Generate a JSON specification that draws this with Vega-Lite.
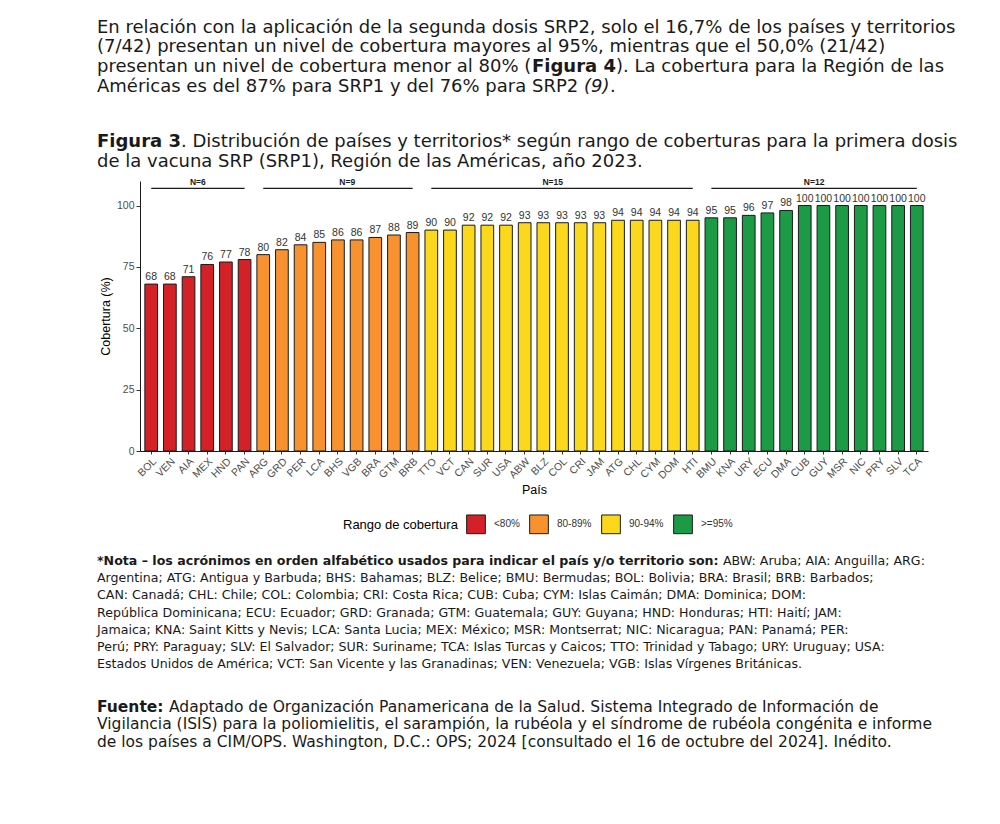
{
  "$schema": "https://vega.github.io/schema/vega-lite/v6.json",
  "padding": {"left": 97, "top": 0, "right": 5, "bottom": 0},
  "background": "white",
  "spacing": 0,
  "resolve": {"scale": {"fill": "independent"}, "legend": {"fill": "independent"}},
  "config": {"view": {"stroke": null}},
  "vconcat": [
    {
      "width": 880, "height": 129,
      "layer": [
        {
          "data": {"values": [
            {"line": 0, "text": "En relación con la aplicación de la segunda dosis SRP2, solo el 16,7% de los países y territorios"},
            {"line": 1, "text": "(7/42) presentan un nivel de cobertura mayores al 95%, mientras que el 50,0% (21/42)"},
            {"line": 2, "text": "presentan un nivel de cobertura menor al 80% ("},
            {"line": 3, "text": "Américas es del 87% para SRP1 y del 76% para SRP2 "}
          ]},
          "mark": {"type": "text", "align": "left", "baseline": "middle", "font": "DejaVu Sans", "fontSize": 18, "color": "#1a1a1a"},
          "encoding": {
            "x": {"value": -43},
            "y": {"field": "line", "type": "quantitative", "scale": {"domain": [-1.396, 5.152], "reverse": true, "nice": false, "zero": false}, "axis": null},
            "text": {"field": "text"}
          }
        },
        {
          "data": {"values": [{"line": 2, "text": "Figura 4"}]},
          "mark": {"type": "text", "align": "left", "baseline": "middle", "font": "DejaVu Sans", "fontSize": 18, "fontWeight": "bold", "color": "#1a1a1a", "dx": 435},
          "encoding": {
            "x": {"value": -43},
            "y": {"field": "line", "type": "quantitative", "axis": null},
            "text": {"field": "text"}
          }
        },
        {
          "data": {"values": [{"line": 2, "text": "). La cobertura para la Región de las"}]},
          "mark": {"type": "text", "align": "left", "baseline": "middle", "font": "DejaVu Sans", "fontSize": 18, "color": "#1a1a1a", "dx": 519},
          "encoding": {
            "x": {"value": -43},
            "y": {"field": "line", "type": "quantitative", "axis": null},
            "text": {"field": "text"}
          }
        },
        {
          "data": {"values": [{"line": 3, "text": "(9)"}]},
          "mark": {"type": "text", "align": "left", "baseline": "middle", "font": "DejaVu Sans", "fontSize": 18, "fontStyle": "italic", "color": "#1a1a1a", "dx": 487},
          "encoding": {
            "x": {"value": -43},
            "y": {"field": "line", "type": "quantitative", "axis": null},
            "text": {"field": "text"}
          }
        },
        {
          "data": {"values": [{"line": 3, "text": "."}]},
          "mark": {"type": "text", "align": "left", "baseline": "middle", "font": "DejaVu Sans", "fontSize": 18, "color": "#1a1a1a", "dx": 513},
          "encoding": {
            "x": {"value": -43},
            "y": {"field": "line", "type": "quantitative", "axis": null},
            "text": {"field": "text"}
          }
        }
      ]
    },
    {
      "width": 880, "height": 48.5,
      "layer": [
        {
          "data": {"values": [{"line": 1, "text": "de la vacuna SRP (SRP1), Región de las Américas, año 2023."}]},
          "mark": {"type": "text", "align": "left", "baseline": "middle", "font": "DejaVu Sans", "fontSize": 18, "color": "#1a1a1a"},
          "encoding": {
            "x": {"value": -43},
            "y": {"field": "line", "type": "quantitative", "scale": {"domain": [-0.692, 1.795], "reverse": true, "nice": false, "zero": false}, "axis": null},
            "text": {"field": "text"}
          }
        },
        {
          "data": {"values": [{"line": 0, "text": "Figura 3"}]},
          "mark": {"type": "text", "align": "left", "baseline": "middle", "font": "DejaVu Sans", "fontSize": 18, "fontWeight": "bold", "color": "#1a1a1a"},
          "encoding": {
            "x": {"value": -43},
            "y": {"field": "line", "type": "quantitative", "axis": null},
            "text": {"field": "text"}
          }
        },
        {
          "data": {"values": [{"line": 0, "text": ". Distribución de países y territorios* según rango de coberturas para la primera dosis"}]},
          "mark": {"type": "text", "align": "left", "baseline": "middle", "font": "DejaVu Sans", "fontSize": 18, "color": "#1a1a1a", "dx": 84},
          "encoding": {
            "x": {"value": -43},
            "y": {"field": "line", "type": "quantitative", "axis": null},
            "text": {"field": "text"}
          }
        }
      ]
    },
    {
      "width": 788, "height": 270,
      "layer": [
        {
          "data": {"name": "cobertura", "values": [
            {"pais": "BOL", "cobertura": 68, "rango": "<80%"},
            {"pais": "VEN", "cobertura": 68, "rango": "<80%"},
            {"pais": "AIA", "cobertura": 71, "rango": "<80%"},
            {"pais": "MEX", "cobertura": 76, "rango": "<80%"},
            {"pais": "HND", "cobertura": 77, "rango": "<80%"},
            {"pais": "PAN", "cobertura": 78, "rango": "<80%"},
            {"pais": "ARG", "cobertura": 80, "rango": "80-89%"},
            {"pais": "GRD", "cobertura": 82, "rango": "80-89%"},
            {"pais": "PER", "cobertura": 84, "rango": "80-89%"},
            {"pais": "LCA", "cobertura": 85, "rango": "80-89%"},
            {"pais": "BHS", "cobertura": 86, "rango": "80-89%"},
            {"pais": "VGB", "cobertura": 86, "rango": "80-89%"},
            {"pais": "BRA", "cobertura": 87, "rango": "80-89%"},
            {"pais": "GTM", "cobertura": 88, "rango": "80-89%"},
            {"pais": "BRB", "cobertura": 89, "rango": "80-89%"},
            {"pais": "TTO", "cobertura": 90, "rango": "90-94%"},
            {"pais": "VCT", "cobertura": 90, "rango": "90-94%"},
            {"pais": "CAN", "cobertura": 92, "rango": "90-94%"},
            {"pais": "SUR", "cobertura": 92, "rango": "90-94%"},
            {"pais": "USA", "cobertura": 92, "rango": "90-94%"},
            {"pais": "ABW", "cobertura": 93, "rango": "90-94%"},
            {"pais": "BLZ", "cobertura": 93, "rango": "90-94%"},
            {"pais": "COL", "cobertura": 93, "rango": "90-94%"},
            {"pais": "CRI", "cobertura": 93, "rango": "90-94%"},
            {"pais": "JAM", "cobertura": 93, "rango": "90-94%"},
            {"pais": "ATG", "cobertura": 94, "rango": "90-94%"},
            {"pais": "CHL", "cobertura": 94, "rango": "90-94%"},
            {"pais": "CYM", "cobertura": 94, "rango": "90-94%"},
            {"pais": "DOM", "cobertura": 94, "rango": "90-94%"},
            {"pais": "HTI", "cobertura": 94, "rango": "90-94%"},
            {"pais": "BMU", "cobertura": 95, "rango": ">=95%"},
            {"pais": "KNA", "cobertura": 95, "rango": ">=95%"},
            {"pais": "URY", "cobertura": 96, "rango": ">=95%"},
            {"pais": "ECU", "cobertura": 97, "rango": ">=95%"},
            {"pais": "DMA", "cobertura": 98, "rango": ">=95%"},
            {"pais": "CUB", "cobertura": 100, "rango": ">=95%"},
            {"pais": "GUY", "cobertura": 100, "rango": ">=95%"},
            {"pais": "MSR", "cobertura": 100, "rango": ">=95%"},
            {"pais": "NIC", "cobertura": 100, "rango": ">=95%"},
            {"pais": "PRY", "cobertura": 100, "rango": ">=95%"},
            {"pais": "SLV", "cobertura": 100, "rango": ">=95%"},
            {"pais": "TCA", "cobertura": 100, "rango": ">=95%"}
          ]},
          "layer": [
            {
              "mark": {"type": "bar", "stroke": "#1a1a1a", "strokeWidth": 1},
              "encoding": {
                "x": {"field": "pais", "type": "nominal", "sort": null, "title": "País",
                  "scale": {"paddingInner": 0.32, "paddingOuter": 0.26},
                  "axis": {"labelAngle": -45, "labelFontSize": 10.5, "labelFont": "Liberation Sans", "labelColor": "#4d4d4d", "tickSize": 3, "tickColor": "#333333", "domainColor": "#1a1a1a", "domainWidth": 1, "labelPadding": 2, "titleFontSize": 12.5, "titleFont": "Liberation Sans", "titleFontWeight": "normal", "titleColor": "#000000", "titlePadding": 3}},
                "y": {"field": "cobertura", "type": "quantitative", "title": "Cobertura (%)",
                  "scale": {"domain": [0, 110], "nice": false},
                  "axis": {"values": [0, 25, 50, 75, 100], "grid": false, "labelFontSize": 10.5, "labelFont": "Liberation Sans", "labelColor": "#4d4d4d", "tickSize": 4, "tickColor": "#333333", "domainColor": "#1a1a1a", "domainWidth": 1, "labelPadding": 2, "titleFontSize": 12.5, "titleFont": "Liberation Sans", "titleFontWeight": "normal", "titleColor": "#000000", "titlePadding": 4}},
                "fill": {"field": "rango", "type": "nominal",
                  "scale": {"domain": ["<80%", "80-89%", "90-94%", ">=95%"], "range": ["#d42027", "#f7922f", "#fcd81c", "#1c9a46"]},
                  "legend": {"orient": "none", "legendX": 203, "legendY": 333, "direction": "horizontal", "title": "Rango de cobertura", "titleOrient": "left", "titleFontSize": 13, "titleFont": "Liberation Sans", "titleFontWeight": "normal", "titleColor": "#000000", "titlePadding": 8, "labelFontSize": 10, "labelFont": "Liberation Sans", "labelColor": "#333333", "symbolType": "square", "symbolSize": 350, "symbolStrokeColor": "#1a1a1a", "symbolStrokeWidth": 1, "symbolOpacity": 1, "labelOffset": 8, "columnPadding": 7}}
              }
            },
            {
              "mark": {"type": "text", "baseline": "bottom", "dy": -2, "font": "Liberation Sans", "fontSize": 10.5, "color": "#333333"},
              "encoding": {
                "x": {"field": "pais", "type": "nominal", "sort": null, "title": "País"},
                "y": {"field": "cobertura", "type": "quantitative", "title": "Cobertura (%)"},
                "text": {"field": "cobertura"}
              }
            }
          ]
        },
        {
          "data": {"values": [
            {"desde": "BOL", "hasta": "PAN", "centro": "AIA", "etiqueta": "N=6"},
            {"desde": "ARG", "hasta": "BRB", "centro": "BHS", "etiqueta": "N=9"},
            {"desde": "TTO", "hasta": "HTI", "centro": "BLZ", "etiqueta": "N=15"},
            {"desde": "BMU", "hasta": "TCA", "centro": "CUB", "etiqueta": "N=12"}
          ]},
          "layer": [
            {
              "mark": {"type": "rule", "stroke": "#1a1a1a", "strokeWidth": 1.3},
              "encoding": {
                "x": {"field": "desde", "type": "nominal", "sort": null, "title": "País"},
                "x2": {"field": "hasta"},
                "y": {"datum": 107}
              }
            },
            {
              "mark": {"type": "text", "baseline": "bottom", "dy": -1, "font": "Liberation Sans", "fontSize": 8.5, "fontWeight": "bold", "color": "#1a1a1a"},
              "encoding": {
                "x": {"field": "centro", "type": "nominal", "sort": null, "title": "País", "bandPosition": 1.235},
                "y": {"datum": 107},
                "text": {"field": "etiqueta"}
              }
            }
          ]
        }
      ]
    },
    {
      "width": 880, "height": 155,
      "layer": [
        {
          "data": {"values": [
            {"line": 1, "text": "Argentina; ATG: Antigua y Barbuda; BHS: Bahamas; BLZ: Belice; BMU: Bermudas; BOL: Bolivia; BRA: Brasil; BRB: Barbados;"},
            {"line": 2, "text": "CAN: Canadá; CHL: Chile; COL: Colombia; CRI: Costa Rica; CUB: Cuba; CYM: Islas Caimán; DMA: Dominica; DOM:"},
            {"line": 3, "text": "República Dominicana; ECU: Ecuador; GRD: Granada; GTM: Guatemala; GUY: Guyana; HND: Honduras; HTI: Haití; JAM:"},
            {"line": 4, "text": "Jamaica; KNA: Saint Kitts y Nevis; LCA: Santa Lucia; MEX: México; MSR: Montserrat; NIC: Nicaragua; PAN: Panamá; PER:"},
            {"line": 5, "text": "Perú; PRY: Paraguay; SLV: El Salvador; SUR: Suriname; TCA: Islas Turcas y Caicos; TTO: Trinidad y Tabago; URY: Uruguay; USA:"},
            {"line": 6, "text": "Estados Unidos de América; VCT: San Vicente y las Granadinas; VEN: Venezuela; VGB: Islas Vírgenes Británicas."}
          ]},
          "mark": {"type": "text", "align": "left", "baseline": "middle", "font": "DejaVu Sans", "fontSize": 12.6, "color": "#1a1a1a"},
          "encoding": {
            "x": {"value": -43},
            "y": {"field": "line", "type": "quantitative", "scale": {"domain": [-1.453, 7.558], "reverse": true, "nice": false, "zero": false}, "axis": null},
            "text": {"field": "text"}
          }
        },
        {
          "data": {"values": [{"line": 0, "text": "*Nota – los acrónimos en orden alfabético usados para indicar el país y/o territorio son:"}]},
          "mark": {"type": "text", "align": "left", "baseline": "middle", "font": "DejaVu Sans", "fontSize": 12.6, "fontWeight": "bold", "color": "#1a1a1a"},
          "encoding": {
            "x": {"value": -43},
            "y": {"field": "line", "type": "quantitative", "axis": null},
            "text": {"field": "text"}
          }
        },
        {
          "data": {"values": [{"line": 0, "text": "ABW: Aruba; AIA: Anguilla; ARG:"}]},
          "mark": {"type": "text", "align": "left", "baseline": "middle", "font": "DejaVu Sans", "fontSize": 12.6, "color": "#1a1a1a", "dx": 626},
          "encoding": {
            "x": {"value": -43},
            "y": {"field": "line", "type": "quantitative", "axis": null},
            "text": {"field": "text"}
          }
        }
      ]
    },
    {
      "width": 880, "height": 70,
      "layer": [
        {
          "data": {"values": [
            {"line": 1, "text": "Vigilancia (ISIS) para la poliomielitis, el sarampión, la rubéola y el síndrome de rubéola congénita e informe"},
            {"line": 2, "text": "de los países a CIM/OPS. Washington, D.C.: OPS; 2024 [consultado el 16 de octubre del 2024]. Inédito."}
          ]},
          "mark": {"type": "text", "align": "left", "baseline": "middle", "font": "DejaVu Sans", "fontSize": 15.5, "color": "#1a1a1a"},
          "encoding": {
            "x": {"value": -43},
            "y": {"field": "line", "type": "quantitative", "scale": {"domain": [-0.886, 3.114], "reverse": true, "nice": false, "zero": false}, "axis": null},
            "text": {"field": "text"}
          }
        },
        {
          "data": {"values": [{"line": 0, "text": "Fuente:"}]},
          "mark": {"type": "text", "align": "left", "baseline": "middle", "font": "DejaVu Sans", "fontSize": 15.5, "fontWeight": "bold", "color": "#1a1a1a"},
          "encoding": {
            "x": {"value": -43},
            "y": {"field": "line", "type": "quantitative", "axis": null},
            "text": {"field": "text"}
          }
        },
        {
          "data": {"values": [{"line": 0, "text": "Adaptado de Organización Panamericana de la Salud. Sistema Integrado de Información de"}]},
          "mark": {"type": "text", "align": "left", "baseline": "middle", "font": "DejaVu Sans", "fontSize": 15.5, "color": "#1a1a1a", "dx": 72},
          "encoding": {
            "x": {"value": -43},
            "y": {"field": "line", "type": "quantitative", "axis": null},
            "text": {"field": "text"}
          }
        }
      ]
    }
  ]
}
